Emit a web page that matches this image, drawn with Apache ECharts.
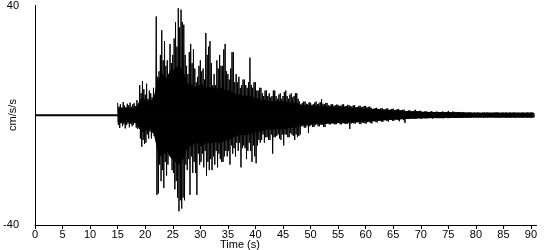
<!DOCTYPE html>
<html>
<head>
<meta charset="utf-8">
<script src="https://cdn.jsdelivr.net/npm/echarts@6/dist/echarts.min.js"></script>
<style>html,body{margin:0;padding:0;background:#fff}#c{width:550px;height:250px}</style>
</head>
<body>
<div id="c"></div>
<script>
// Seismogram.
// Spikes: 0.25 s bins from 15 s; each bin has its largest positive and negative excursion.
const spikeStart = 15.0;  // s
const spikeStep = 0.25;   // s
const posPeak = [
4.5,3.2,4.0,2.8,4.8,3.5,3.0,4.2,3.6,4.6,3.1,4.0,4.4,3.3,
5.5,4.0,
11.0,8.0,12.5,9.5, 7.5,11.5,6.0,9.0, 8.0,6.5,10.0,7.0,
36.0,14.0,16.0,22.0, 31.0,20.0,27.0,18.0, 20.0,15.0,26.0,19.0,
22.0,28.0,34.0,25.0, 39.0,32.0,38.5,34.0, 33.0,22.0,18.0,15.0,
23.0,26.0,19.0,24.0, 17.0,12.0,14.0,18.0, 20.0,16.0,17.0,13.0,
30.0,22.0,25.0,27.0, 19.0,11.0,15.0,11.0, 20.0,17.0,22.0,18.0,
18.0,24.0,26.0,16.0, 15.0,13.0,17.0,23.0, 23.0,12.0,15.0,12.0,
14.0,10.0,11.0,13.0, 13.0,11.0,10.0,12.0, 21.0,11.0,10.0,12.0,
12.0,9.0,9.0,10.0, 10.0,8.0,7.0,9.0, 9.0,7.0,8.0,6.5,
7.0,9.0,9.0,7.0, 6.0,7.5,8.0,6.0, 7.0,8.5,9.0,7.0,
6.0,7.5,8.0,6.5, 7.0,8.0,8.0,6.0, 5.0,4.0,4.5,5.0,
5.0,4.2,4.0,4.8, 4.5,3.8,4.0,4.6, 5.0,4.0,4.3,4.8,
5.8,4.2,4.0,4.5, 4.5,3.6,3.5,4.0, 4.0,3.5,3.6,3.9,
3.8,3.4,3.5,3.9, 4.0,3.3,3.4,3.8, 3.7,3.3,3.2,3.6,
3.6,3.0,3.0,3.4, 3.5,3.0,3.1,3.4, 3.4,2.9,3.0,3.2,
2.7,2.3,2.4,2.6, 2.7,2.3,2.3,2.5, 2.6,2.1,2.2,2.4,
2.5,2.0,2.0,2.3, 2.4,1.9,2.0,2.2, 2.2,1.8,1.8,2.0,
2.0,1.5,1.5,1.7, 1.8,1.4,1.4,1.6, 2.0,1.5,1.5,1.6,
1.6,1.2,1.2,1.4, 1.4,1.2,1.2,1.3, 1.5,1.1,1.1,1.3,
1.3,1.0,1.0,1.2, 1.4,1.1,1.1,1.2, 1.6,1.0,1.0,1.3,
1.3,1.0,1.0,1.2, 1.2,0.9,0.9,1.1, 1.0,0.8,0.8,0.9,
1.0,0.9,0.8,1.0, 0.8,1.0,0.9,0.8, 0.8,0.9,1.0,0.8,
1.0,0.8,0.9,0.8, 0.9,0.8,1.0,0.9, 1.0,0.8,0.8,0.9,
0.9,0.8,1.0,0.8, 0.8,1.0,0.8,0.9, 1.0,0.8,0.9,0.8,
0.9,0.8,1.0,0.8, 0.8,1.0,0.9,0.8, 1.0,0.9,0.8
];
const negPeak = [
-3.5,-4.6,-2.9,-4.0,-3.3,-4.8,-3.6,-3.0,-4.4,-3.2,-4.0,-3.5,-2.8,-4.5,
-5.0,-4.2,
-8.5,-11.5,-9.0,-10.5, -10.0,-7.0,-8.5,-6.0, -8.5,-6.5,-7.5,-8.0,
-29.0,-28.5,-18.0,-24.0, -20.0,-26.5,-17.0,-22.0, -18.0,-14.0,-15.0,-20.0,
-21.0,-27.0,-24.0,-30.0, -35.0,-31.0,-34.0,-30.0, -31.0,-18.0,-20.0,-16.0,
-29.0,-15.0,-21.0,-17.0, -21.0,-29.0,-14.0,-18.0, -17.0,-14.0,-19.0,-13.0,
-22.0,-17.0,-20.0,-16.0, -20.0,-15.0,-18.0,-13.0, -19.0,-14.0,-16.0,-17.0,
-17.0,-15.0,-13.0,-15.0, -13.0,-18.0,-11.0,-14.0, -12.0,-15.0,-10.0,-13.0,
-10.0,-19.0,-12.0,-11.0, -12.0,-16.0,-13.0,-10.0, -13.0,-17.0,-11.0,-15.0,
-17.5,-11.0,-9.0,-10.0, -9.0,-7.0,-10.0,-8.0, -8.0,-9.0,-9.0,-7.0,
-14.0,-8.0,-8.0,-7.5, -7.0,-8.5,-9.0,-7.0, -11.0,-7.0,-7.0,-8.0,
-8.0,-6.5,-7.0,-7.5, -9.0,-7.0,-8.0,-7.5, -7.0,-4.0,-4.0,-4.5,
-4.5,-3.8,-6.5,-4.0, -3.5,-4.3,-4.3,-3.6, -3.0,-4.0,-4.0,-3.4,
-3.5,-4.3,-4.3,-3.2, -3.0,-3.3,-3.3,-3.0, -3.0,-3.3,-3.3,-2.9,
-2.8,-3.3,-3.3,-2.9, -3.0,-3.2,-3.2,-2.8, -5.0,-3.0,-2.8,-3.0,
-3.0,-2.6,-2.6,-3.1, -3.2,-2.7,-2.7,-3.0, -3.0,-2.5,-2.5,-2.8,
-3.0,-2.2,-2.2,-2.5, -2.6,-2.0,-2.0,-2.3, -2.4,-1.8,-1.8,-2.1,
-2.3,-1.6,-1.6,-2.0, -2.0,-1.5,-1.5,-1.8, -2.2,-1.4,-1.4,-1.8,
-2.8,-1.2,-1.2,-1.3, -1.3,-1.0,-1.0,-1.2, -1.2,-0.9,-0.9,-1.1,
-1.2,-0.8,-0.8,-1.0, -1.1,-0.9,-0.9,-1.0, -1.2,-0.8,-0.8,-1.0,
-1.0,-0.8,-0.8,-0.9, -1.1,-0.8,-0.8,-1.0, -1.0,-0.7,-0.7,-0.9,
-1.0,-0.8,-0.8,-0.9, -0.9,-0.7,-0.7,-0.8, -0.8,-0.7,-0.7,-0.8,
-0.8,-0.6,-0.6,-0.7, -0.7,-0.8,-0.6,-0.7, -0.6,-0.7,-0.8,-0.6,
-0.8,-0.6,-0.7,-0.6, -0.7,-0.6,-0.8,-0.7, -0.8,-0.6,-0.7,-0.7,
-0.6,-0.7,-0.8,-0.6, -0.7,-0.8,-0.6,-0.7, -0.8,-0.7,-0.6,-0.7,
-0.6,-0.7,-0.8,-0.7, -0.7,-0.8,-0.7,-0.6, -0.8,-0.7,-0.7
];
// Solid dense core of the trace: 0.5 s bins from 15 s (upper / lower edge of the black band)
const coreStart = 15.0;   // s
const coreStep = 0.5;     // s
const coreHigh = [
2.5,2.2,2.6,2.4,2.5,2.3,2.6,3.0,
5.0,6.0,5.5,5.0,5.5,5.0,
10.0,13.0,15.0,14.0,13.0,16.0,
16.0,17.0,18.0,17.0,15.0,12.0,
11.0,11.0,10.0,10.5,11.0,11.0,10.0,10.0,
10.0,10.0,9.5,10.0,9.5,9.0,9.0,8.5,
8.0,7.5,7.5,7.0,7.0,7.0,7.0,6.5,
6.0,6.0,5.5,5.5,5.5,5.0,5.0,5.0,5.0,5.0,
5.0,4.8,4.6,4.5,4.5,4.3,
3.6,3.5,3.4,3.5,3.3,3.4,3.2,3.3,3.1,3.2,
3.0,2.9,3.0,2.8,2.9,2.7,2.8,2.6,2.7,2.5,
2.4,2.3,2.4,2.2,2.3,2.1,2.2,2.0,2.0,1.9,
1.8,1.8,1.7,1.7,1.6,1.6,1.5,1.5,1.4,1.3,
1.3,1.2,1.2,1.2,1.1,1.1,1.1,1.0,1.0,1.0,
1.0,1.0,0.9,0.9,1.0,0.9,0.9,0.9,0.9,0.9,0.8,0.9,0.8,0.8,
0.8,0.8,0.8,0.8,0.8,0.8,0.8,0.8,0.8,0.8,0.8,
0.8,0.8,0.8,0.8,0.8,0.8,0.8,0.8,0.8,0.8,0.8
];
const coreLow = [
-2.4,-2.6,-2.2,-2.5,-2.3,-2.6,-2.5,-3.0,
-5.0,-6.0,-5.5,-5.0,-5.0,-5.5,
-10.0,-14.0,-15.0,-14.0,-13.0,-15.0,
-16.0,-17.0,-18.0,-17.0,-15.0,-12.0,
-11.0,-11.0,-10.0,-10.0,-11.0,-11.0,-10.0,-10.0,
-10.0,-10.0,-9.5,-10.0,-9.5,-9.0,-9.0,-8.5,
-8.0,-7.5,-7.0,-7.0,-7.0,-7.0,-6.5,-6.5,
-6.0,-6.0,-5.5,-5.5,-5.0,-5.0,-5.0,-5.0,-5.0,-5.0,
-5.0,-4.8,-4.5,-4.5,-4.3,-4.2,
-3.4,-3.3,-3.3,-3.2,-3.3,-3.1,-3.2,-3.0,-3.1,-3.0,
-2.8,-2.8,-2.7,-2.8,-2.6,-2.7,-2.5,-2.6,-2.4,-2.4,
-2.2,-2.2,-2.1,-2.2,-2.0,-2.0,-1.9,-1.9,-1.8,-1.8,
-1.6,-1.6,-1.5,-1.5,-1.5,-1.4,-1.4,-1.3,-1.2,-1.2,
-1.1,-1.1,-1.1,-1.0,-1.0,-1.0,-1.0,-0.9,-0.9,-0.9,
-0.9,-0.9,-0.9,-0.8,-0.9,-0.8,-0.8,-0.8,-0.8,-0.8,-0.7,-0.8,-0.7,-0.7,
-0.7,-0.7,-0.7,-0.7,-0.7,-0.7,-0.7,-0.7,-0.7,-0.7,-0.7,
-0.7,-0.7,-0.7,-0.7,-0.7,-0.7,-0.7,-0.7,-0.7,-0.7,-0.7
];
const preEvent = [[0, 0], [15, 0]];
const xTicks = {min: 0, max: 91, interval: 5};
const yTicks = {min: -40, max: 40, interval: 80};

const spikes = [];
const coreUp = [];
const coreDown = [];
for (let i = 0; i < posPeak.length; i++) {
  const t = spikeStart + i * spikeStep;
  spikes.push([t, posPeak[i]]);
  spikes.push([t + spikeStep / 2, negPeak[i]]);
}
for (let i = 0; i < coreHigh.length; i++) {
  const t = coreStart + i * coreStep;
  coreUp.push([t, coreHigh[i]]);
  coreDown.push([t, coreLow[i]]);
}

const font = 'Liberation Sans, Arial, sans-serif';
const bandSeries = (data) => ({
  type: 'line', data: data, showSymbol: false, symbol: 'none',
  lineStyle: {color: '#000', width: 1},
  areaStyle: {color: '#000', opacity: 1, origin: 0}, silent: true
});
const chart = echarts.init(document.getElementById('c'), null, {renderer: 'canvas'});
chart.setOption({
  animation: false,
  backgroundColor: '#fff',
  grid: {left: 35, right: 13.5, top: 5, bottom: 25, containLabel: false},
  xAxis: {
    type: 'value', min: xTicks.min, max: xTicks.max, interval: xTicks.interval,
    axisLine: {show: true, onZero: false, lineStyle: {color: '#000', width: 1}},
    axisTick: {show: true, length: 4, lineStyle: {color: '#000'}},
    axisLabel: {color: '#000', fontFamily: font, fontSize: 11, margin: 4,
      showMaxLabel: false},
    splitLine: {show: false}
  },
  yAxis: {
    type: 'value', min: yTicks.min, max: yTicks.max, interval: yTicks.interval,
    axisLine: {show: true, onZero: false, lineStyle: {color: '#000', width: 1}},
    axisTick: {show: false},
    axisLabel: {color: '#000', fontFamily: font, fontSize: 11, margin: 16},
    splitLine: {show: false}
  },
  graphic: [
    {type: 'text', left: 220, top: 239,
     style: {text: 'Time (s)', fill: '#000', font: '11px ' + font}},
    {type: 'text', x: 13, y: 115, rotation: Math.PI / 2,
     style: {text: 'cm/s/s', fill: '#000', font: '11px ' + font,
       textAlign: 'center', textVerticalAlign: 'middle'}}
  ],
  series: [
    {type: 'line', data: preEvent, showSymbol: false, symbol: 'none',
     lineStyle: {color: '#000', width: 2}, silent: true},
    bandSeries(coreUp),
    bandSeries(coreDown),
    {type: 'line', data: spikes, showSymbol: false, symbol: 'none',
     lineStyle: {color: '#000', width: 1}, silent: true}
  ]
});
</script>
</body>
</html>
